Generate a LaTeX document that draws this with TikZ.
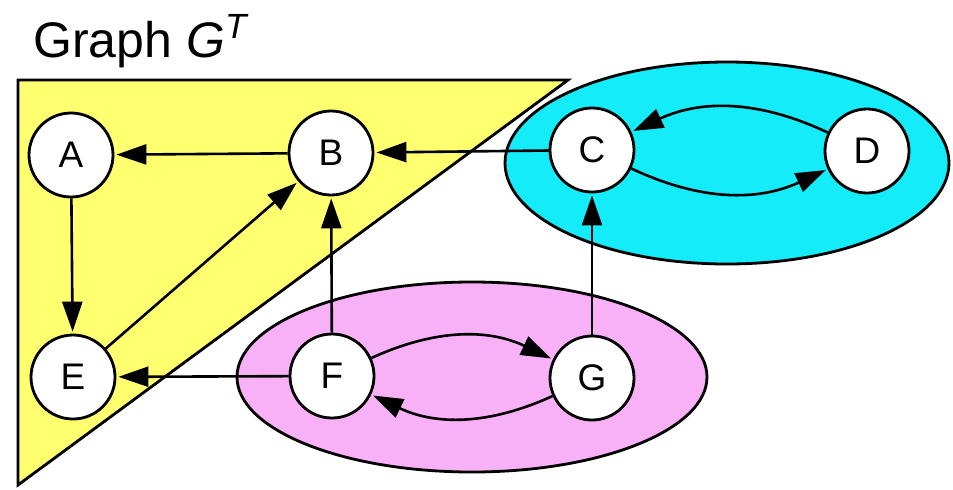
\documentclass[tikz,border=0pt]{standalone}
\usepackage{fontspec}
\setmainfont{Liberation Sans}
\usepackage{tikz}
\usetikzlibrary{arrows.meta, shapes.geometric}

\definecolor{sccyellow}{RGB}{255,255,112}
\definecolor{scccyan}{RGB}{20,236,250}
\definecolor{sccpink}{RGB}{248,176,246}

\begin{document}
\begin{tikzpicture}[
        x=0.5pt, y=-0.5pt,
        vertex/.style={draw=black, fill=white, circle, minimum size=42pt, inner sep=0pt, line width=1.4pt, font=\fontsize{18.5}{20}\selectfont},
        region/.style={draw=black, line width=1.4pt},
        arrow/.style={-{Triangle[length=15pt, width=10pt]}, line width=1.3pt, shorten >=1pt},
    ]
    \useasboundingbox (0,0) rectangle (953,489);

    % Title
    \node[anchor=base west, inner sep=0pt, font=\fontsize{25}{28}\selectfont] (title) at (33,57) {Graph \textit{G}\textsuperscript{\textit{T}}};

    % Components
    \filldraw[region, fill=sccyellow] (18,80) -- (568,80) -- (18,485) -- cycle;
    \node[region, fill=scccyan, ellipse, minimum width=222pt, minimum height=101pt] (cd) at (727,163) {};
    \node[region, fill=sccpink, ellipse, minimum width=235pt, minimum height=95pt] (fg) at (472,377) {};

    % Nodes
    \node[vertex] (A) at (71,155) {A};
    \node[vertex] (B) at (331,153) {B};
    \node[vertex] (C) at (592,150) {C};
    \node[vertex] (D) at (867,151) {D};
    \node[vertex] (E) at (73,377) {E};
    \node[vertex] (F) at (332,376) {F};
    \node[vertex] (G) at (592,378) {G};

    % Edges
    \draw[arrow] (B) -- (A);
    \draw[arrow] (C) -- (B);
    \draw[arrow] (A) -- (E);
    \draw[arrow] (E) -- (B);
    \draw[arrow] (F) -- (B);
    \draw[arrow] (F) -- (E);
    \draw[arrow] (G) -- (C);

    % Cycles inside components
    \draw[arrow] (C) to[bend right=25] (D);
    \draw[arrow] (D) to[bend right=25] (C);
    \draw[arrow] (F) to[bend left=25] (G);
    \draw[arrow] (G) to[bend left=25] (F);
\end{tikzpicture}
\end{document}
